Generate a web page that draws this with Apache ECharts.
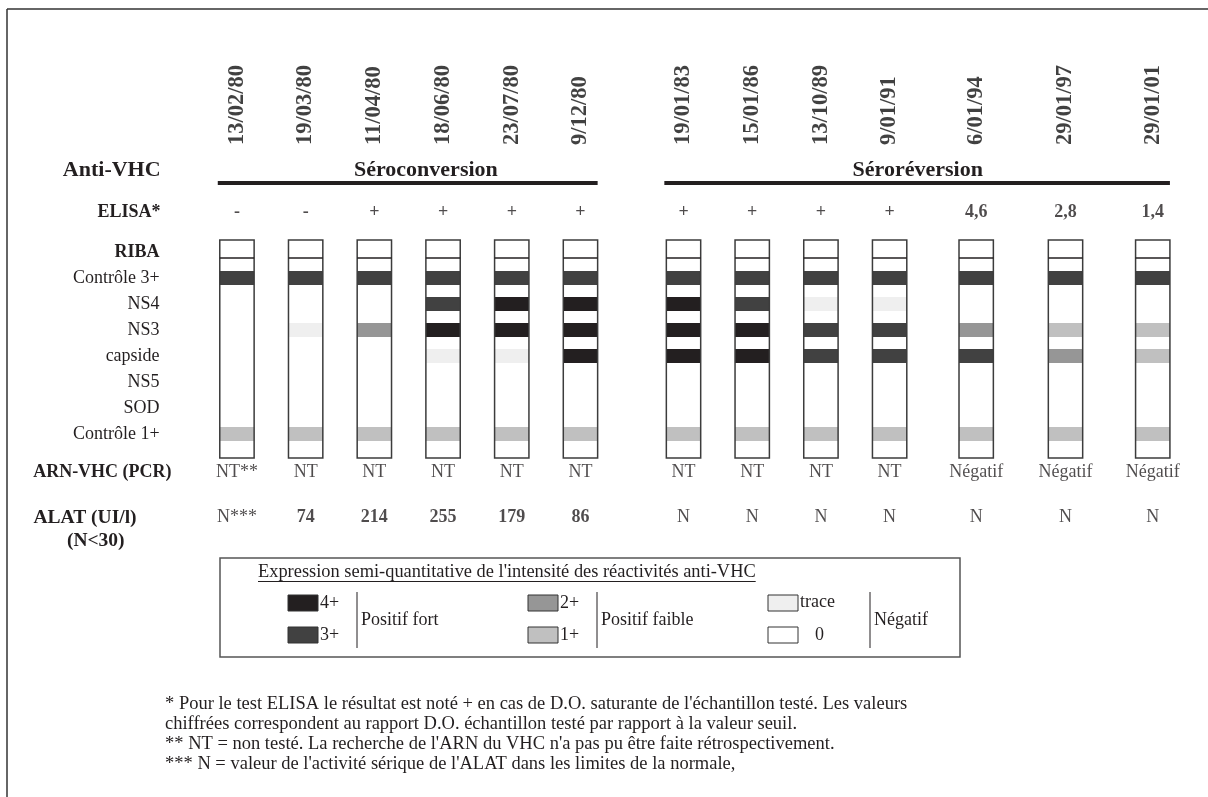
<!DOCTYPE html>
<html><head><meta charset="utf-8">
<script src="https://cdn.jsdelivr.net/npm/echarts@6/dist/echarts.min.js"></script>
<style>html,body{margin:0;padding:0;background:#fff}#c{width:1208px;height:797px}</style>
</head><body><div id="c"></div>
<script>
// ---------------- DATA ----------------
const dates = ['13/02/80','19/03/80','11/04/80','18/06/80','23/07/80','9/12/80','19/01/83','15/01/86','13/10/89','9/01/91','6/01/94','29/01/97','29/01/01'];
const elisa = ['-','-','+','+','+','+','+','+','+','+','4,6','2,8','1,4'];
const arnVhc = ['NT**','NT','NT','NT','NT','NT','NT','NT','NT','NT','Négatif','Négatif','Négatif'];
const alat = ['N***','74','214','255','179','86','N','N','N','N','N','N','N'];
const ribaRows = ['RIBA','Contrôle 3+','NS4','NS3','capside','NS5','SOD','Contrôle 1+'];
// band intensity per sample: 0 = none, 'tr' = trace, 1..4 = 1+..4+
const controle3 = [3,3,3,3,3,3,3,3,3,3,3,3,3];
const ns4       = [0,0,0,3,4,4,4,3,'tr','tr',0,0,0];
const ns3       = [0,'tr',2,4,4,4,4,4,3,3,2,1,1];
const capside   = [0,0,0,'tr','tr',4,4,4,3,3,3,2,1];
const ns5       = [0,0,0,0,0,0,0,0,0,0,0,0,0];
const sod       = [0,0,0,0,0,0,0,0,0,0,0,0,0];
const controle1 = [1,1,1,1,1,1,1,1,1,1,1,1,1];
const phases = ['Séroconversion','Séroréversion'];
const phaseCols = [[0,5],[6,12]];
const levelKeys = [4,3,2,1,'tr',0];
const levelNames = ['4+','3+','2+','1+','trace','0'];
const levelGroups = ['Positif fort','Positif faible','Négatif'];
const legendTitle = "Expression semi-quantitative de l'intensité des réactivités anti-VHC";
const footnotes = [
  "* Pour le test ELISA le résultat est noté + en cas de D.O. saturante de l'échantillon testé. Les valeurs",
  "chiffrées correspondent au rapport D.O. échantillon testé par rapport à la valeur seuil.",
  "** NT = non testé. La recherche de l'ARN du VHC n'a pas pu être faite rétrospectivement.",
  "*** N = valeur de l'activité sérique de l'ALAT dans les limites de la normale,"
];

// ---------------- LAYOUT / STYLE ----------------
const L = {
  colSlot: [0,1,2,3,4,5,6.5,7.5,8.5,9.5,10.76,12.06,13.33],
  gridLeft: 202.6, gridWidth: 984.5, xMin: -0.5, xMax: 13.83,
  stripW: 0.5,
  phaseLabelSlot: [2.75, 9.91]
};
const INK = '#231f20';
const SERIF = 'Liberation Serif';
const LEVEL_COLOR = {4:'#231f20', 3:'#414141', 2:'#969696', 1:'#c0c0c0', tr:'#efefef', 0:'#ffffff'};
const bandRows = [controle3, ns4, ns3, capside, ns5, sod, controle1];

// ---------------- BUILD ----------------
const grids = [
  {top: 60,  height: 85},   // dates
  {top: 158, height: 24},   // Anti-VHC
  {top: 200, height: 24},   // ELISA
  {top: 239, height: 208},  // RIBA
  {top: 460, height: 24},   // ARN
  {top: 506, height: 46}    // ALAT
].map(g => Object.assign({left: L.gridLeft, width: L.gridWidth, containLabel: false}, g));

const xAxes = grids.map((g, i) => ({type:'value', gridIndex:i, min:L.xMin, max:L.xMax, show:false}));
const baseY = {type:'category', inverse:true, axisLine:{show:false}, axisTick:{show:false}, splitLine:{show:false}};
const yAxes = [
  {type:'value', gridIndex:0, min:0, max:1, show:false},
  Object.assign({}, baseY, {gridIndex:1, data:['Anti-VHC'], axisLabel:{margin:42, fontFamily:SERIF, fontWeight:'bold', fontSize:22, color:INK}}),
  Object.assign({}, baseY, {gridIndex:2, data:['ELISA*'], axisLabel:{margin:42, fontFamily:SERIF, fontWeight:'bold', fontSize:18, color:INK}}),
  Object.assign({}, baseY, {gridIndex:3, data:ribaRows, axisLabel:{interval:0, margin:43, fontFamily:SERIF, fontSize:18, color:INK,
    formatter: v => v === 'RIBA' ? '{b|RIBA}' : v, rich:{b:{fontFamily:SERIF, fontWeight:'bold', fontSize:18, color:INK}}}}),
  Object.assign({}, baseY, {gridIndex:4, data:['ARN-VHC (PCR)'], axisLabel:{margin:31, fontFamily:SERIF, fontWeight:'bold', fontSize:18, color:INK}}),
  Object.assign({}, baseY, {gridIndex:5, data:['ALAT (UI/l)','(N<30)'], axisLabel:{interval:0, margin:66, fontFamily:SERIF, fontWeight:'bold', fontSize:19.5, color:INK,
    formatter: v => v === '(N<30)' ? '{n|' + v + '}' : v, rich:{n:{fontFamily:SERIF, fontWeight:'bold', fontSize:19.5, color:INK, padding:[0,12,0,0]}}}})
];

function textRow(gridIdx, texts, y, labelStyle) {
  return {
    type:'scatter', xAxisIndex:gridIdx, yAxisIndex:gridIdx, symbolSize:0, silent:true,
    data: texts.map((t, i) => ({name:t, value:[L.colSlot[i], y]})),
    label: Object.assign({show:true, position:'inside', formatter:'{b}', fontFamily:SERIF, color:INK, fontSize:18}, labelStyle)
  };
}

const series = [];
// dates
series.push(textRow(0, dates, 0, {position:[0,0], rotate:90, align:'left', verticalAlign:'middle', fontWeight:'bold', fontSize:22.5, color:'#111'}));
// phase headers
series.push({
  type:'custom', xAxisIndex:1, yAxisIndex:1, silent:true,
  data: phases.map((p, i) => ({name:p, value:[L.colSlot[phaseCols[i][0]], L.colSlot[phaseCols[i][1]], L.phaseLabelSlot[i]]})),
  renderItem(params, api) {
    const w = api.size([L.stripW, 0])[0];
    const a = api.coord([api.value(0), 0]);
    const b = api.coord([api.value(1), 0]);
    const c = api.coord([api.value(2), 0]);
    return {type:'group', children:[
      {type:'line', shape:{x1:a[0]-w/2-2, y1:a[1]+13, x2:b[0]+w/2, y2:a[1]+13}, style:{stroke:INK, lineWidth:4}},
      {type:'text', x:c[0], y:c[1], style:{text:phases[params.dataIndex], fontFamily:SERIF, fontWeight:'bold', fontSize:22, fill:INK, align:'center', verticalAlign:'middle'}}
    ]};
  }
});
// ELISA
series.push(textRow(2, elisa, 0, {fontWeight:'bold', fontSize:18}));
// RIBA bands
const bandItems = [];
bandRows.forEach((row, r) => row.forEach((lvl, c) => { if (lvl !== 0) bandItems.push({value:[L.colSlot[c], r + 1], lvl}); }));
series.push({
  type:'custom', xAxisIndex:3, yAxisIndex:3, silent:true, z:2,
  data: bandItems.map(b => b.value),
  renderItem(params, api) {
    const p = api.coord([api.value(0), api.value(1)]);
    const w = api.size([L.stripW, 0])[0];
    const h = api.size([0, 1])[1] * 0.54;
    return {type:'rect', shape:{x:p[0]-w/2, y:p[1]-h/2, width:w, height:h}, style:{fill:LEVEL_COLOR[bandItems[params.dataIndex].lvl]}};
  }
});
// RIBA strips
series.push({
  type:'custom', xAxisIndex:3, yAxisIndex:3, silent:true, z:3,
  data: dates.map((d, i) => [L.colSlot[i], 0]),
  renderItem(params, api) {
    const x = api.value(0);
    const c0 = api.coord([x, 0]);
    const c7 = api.coord([x, 7]);
    const h = api.size([0, 1])[1];
    const w = api.size([L.stripW, 0])[0];
    const left = c0[0] - w/2, top = c0[1] - 0.46*h, bottom = c7[1] + 0.92*h, div = c0[1] + 0.23*h;
    return {type:'group', children:[
      {type:'rect', shape:{x:left, y:top, width:w, height:bottom-top}, style:{fill:'none', stroke:'#3c3c3c', lineWidth:1.5}},
      {type:'line', shape:{x1:left, y1:div, x2:left+w, y2:div}, style:{stroke:INK, lineWidth:1.5}}
    ]};
  }
});
// ARN
series.push(textRow(4, arnVhc, 0, {fontSize:18}));
// ALAT
series.push(textRow(5, alat, 0, {
  formatter: p => /^\d/.test(p.name) ? '{b|' + p.name + '}' : '{r|' + p.name + '}',
  rich:{b:{fontFamily:SERIF, fontWeight:'bold', fontSize:18, color:INK}, r:{fontFamily:SERIF, fontSize:18, color:INK}}
}));

// ---------------- GRAPHIC (frame, legend, footnotes) ----------------
const g = [];
g.push({type:'line', shape:{x1:7, y1:9, x2:1208, y2:9}, style:{stroke:'#333', lineWidth:1.5}});
g.push({type:'line', shape:{x1:7, y1:9, x2:7, y2:797}, style:{stroke:'#333', lineWidth:1.5}});
// legend box
g.push({type:'rect', shape:{x:220, y:558, width:740, height:99}, style:{fill:'#fff', stroke:'#555', lineWidth:1.5}});
const ctx = document.createElement('canvas').getContext('2d');
ctx.font = '18.4px "Liberation Serif"';
const tw = ctx.measureText(legendTitle).width;
g.push({type:'text', x:258, y:572, style:{text:legendTitle, fontFamily:SERIF, fontSize:18.4, fill:INK, verticalAlign:'middle'}});
g.push({type:'line', shape:{x1:258, y1:581.5, x2:258+tw, y2:581.5}, style:{stroke:INK, lineWidth:1}});
const colX = [288, 528, 768];
const rowY = [595, 627];
levelKeys.forEach((k, i) => {
  const cx = colX[Math.floor(i/2)], cy = rowY[i%2];
  g.push({type:'rect', shape:{x:cx, y:cy, width:30, height:16}, style:{fill:LEVEL_COLOR[k], stroke:'#333', lineWidth:1}});
  const lx = k === 0 ? cx + 47 : cx + 32;
  const ly = k === 'tr' ? cy + 7 : cy + 8;
  g.push({type:'text', x:lx, y:ly, style:{text:levelNames[i], fontFamily:SERIF, fontSize:18, fill:INK, verticalAlign:'middle'}});
});
[357, 597, 870].forEach((bx, i) => {
  g.push({type:'line', shape:{x1:bx, y1:592, x2:bx, y2:648}, style:{stroke:INK, lineWidth:1}});
  g.push({type:'text', x:bx+4, y:620, style:{text:levelGroups[i], fontFamily:SERIF, fontSize:18, fill:INK, verticalAlign:'middle'}});
});
footnotes.forEach((t, i) => {
  g.push({type:'text', x:165, y:704 + i*20, style:{text:t, fontFamily:SERIF, fontSize:18.5, fill:INK, verticalAlign:'middle'}});
});

const chart = echarts.init(document.getElementById('c'), null, {renderer:'canvas'});
chart.setOption({
  backgroundColor:'#fff', animation:false,
  grid: grids, xAxis: xAxes, yAxis: yAxes, series, graphic: g
});
</script></body></html>
